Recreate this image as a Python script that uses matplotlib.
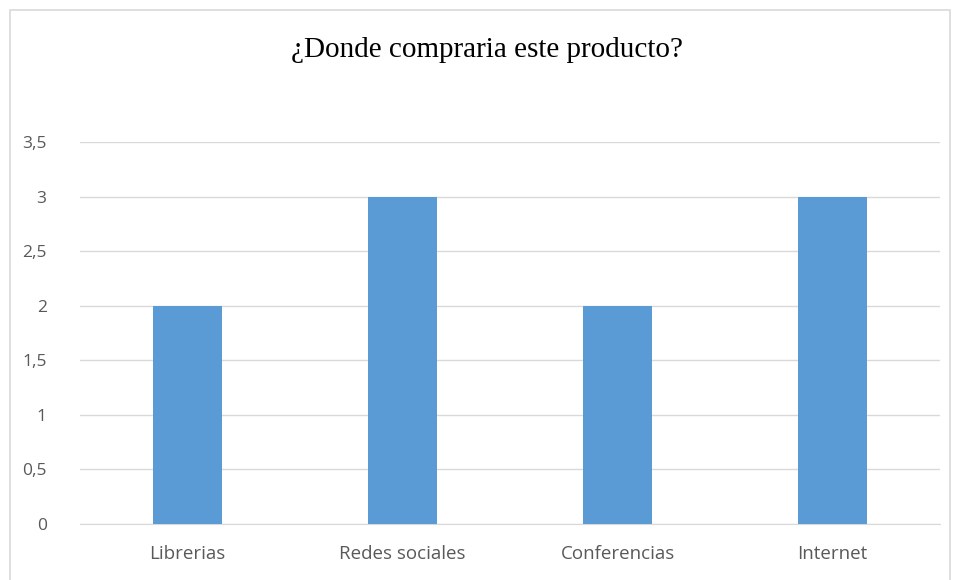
import matplotlib
matplotlib.use("Agg")
import matplotlib.pyplot as plt
from matplotlib.patches import Rectangle
from matplotlib.ticker import FuncFormatter

categories = ["Librerias", "Redes sociales", "Conferencias", "Internet"]
values = [2, 3, 2, 3]
yticks = [0, 0.5, 1, 1.5, 2, 2.5, 3, 3.5]
title = "¿Donde compraria este producto?"

W, H = 954, 580
fig = plt.figure(figsize=(W/100, H/100), dpi=100)
fig.patch.set_facecolor("white")
fig.patches.append(Rectangle((10/W, -0.01), 940/W, 1 - 10/H + 0.01, transform=fig.transFigure,
                             fill=False, edgecolor="#d9d9d9", linewidth=1.2))

ax = fig.add_axes([80/W, 56/H, (940-80)/W, (524-142)/H])
x = range(len(categories))
ax.bar(x, values, width=0.32, color="#5b9bd5", zorder=3)
ax.set_xlim(-0.5, len(categories) - 0.5)
ax.set_ylim(0, 3.5)
ax.set_yticks(yticks)
ax.yaxis.set_major_formatter(FuncFormatter(lambda v, p: (f"{v:g}").replace(".", ",")))
ax.set_xticks(list(x))
ax.set_xticklabels(categories)
ax.grid(axis="y", color="#d9d9d9", linewidth=1, zorder=0)
for s in ["top", "right", "left"]:
    ax.spines[s].set_visible(False)
ax.spines["bottom"].set_color("#d9d9d9")
ax.tick_params(axis="x", length=0, labelsize=13.5, labelcolor="#595959", pad=15)
ax.tick_params(axis="y", length=0, labelsize=12.5, labelcolor="#595959", pad=24)
for lbl in ax.get_xticklabels() + ax.get_yticklabels():
    lbl.set_family(["Open Sans", "DejaVu Sans"])
fig.text(487/W, 1 - 50/H, title, ha="center", va="center", fontsize=21,
         family=["Liberation Serif", "DejaVu Serif"], color="#000000")

fig.savefig("out.png", dpi=100)
